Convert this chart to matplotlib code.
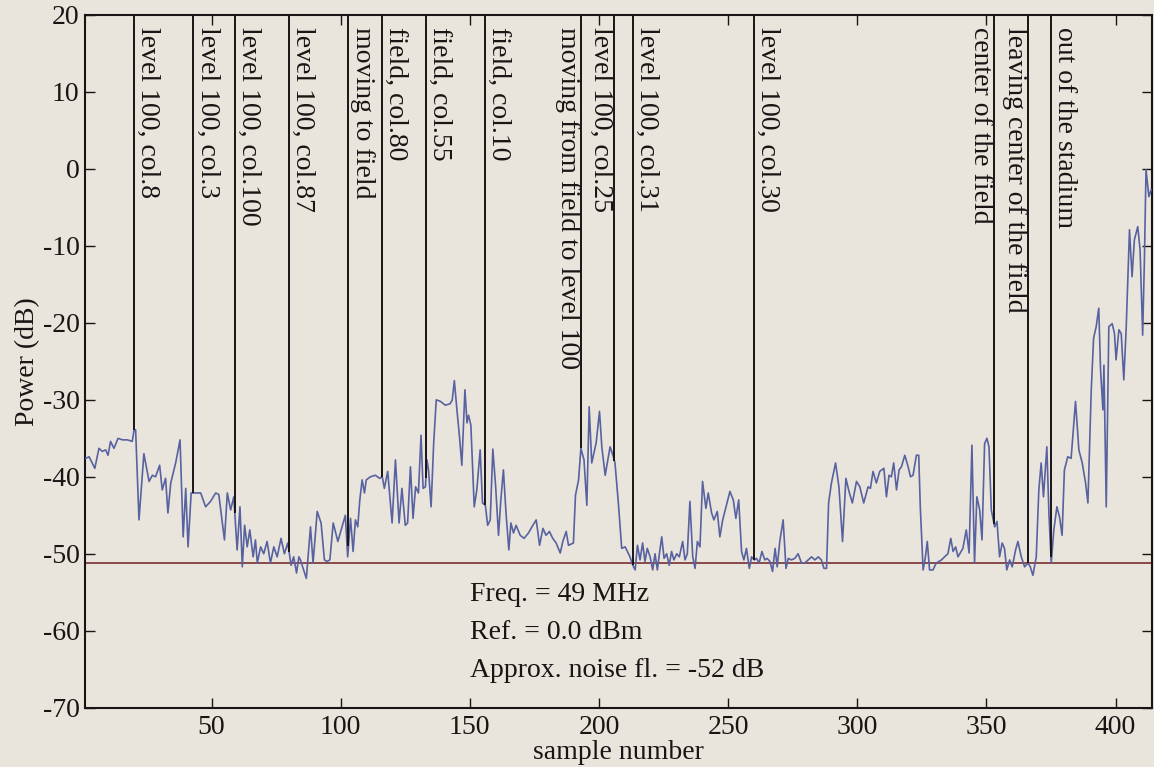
import matplotlib
matplotlib.use("Agg")
import matplotlib.pyplot as plt
import numpy as np

# ---------------- data ----------------
sample = [
    1.3, 2.6, 4.8, 6.4, 7.7, 9.0, 9.9, 10.9, 12.2, 13.8, 15.5, 17.4, 19.3, 20.0, 20.6,
    21.9, 23.8, 25.8, 27.1, 28.3, 29.9, 30.9, 32.2, 33.1, 34.2, 36.1, 37.8, 39.0, 40.0,
    40.9, 42.1, 43.8, 45.8, 47.7, 49.6, 51.6, 52.8, 55.0, 56.1, 57.4, 58.6, 59.9, 61.0,
    61.9, 62.8, 63.8, 64.8, 66.1, 67.0, 67.7, 69.0, 70.2, 71.5, 72.8, 74.1, 75.4, 76.9,
    78.2, 79.5, 80.8, 81.8, 82.9, 83.8,
    84.4, 86.7, 88.3, 89.3, 90.9, 92.4, 93.7, 94.7, 95.8, 97.1, 98.9, 100.5, 101.8, 102.7,
    103.8, 104.8, 105.7, 106.6, 107.4, 108.3, 109.2, 109.9, 111.5, 113.4, 115.1, 116.1,
    116.9, 118.2, 119.9, 121.2, 122.6, 123.7, 125.0, 125.9, 127.0, 128.0, 129.0, 130.1,
    131.1, 131.9, 132.8, 133.4, 134.0, 135.0, 136.0, 137.0, 138.6, 140.5, 142.4, 143.2,
    144.0, 145.0, 146.0, 146.9, 148.1, 148.9, 149.5, 150.4, 151.7, 152.7, 154.0, 154.9,
    156.0, 156.9, 157.9, 158.9, 160.0, 161.1, 162.0, 163.0, 164.0, 165.1, 165.9, 166.9,
    167.9, 169.5,
    171.0, 172.7, 174.4, 175.7, 177.0, 178.3, 179.5, 180.8, 182.1, 183.4, 185.0, 186.0,
    187.3, 188.2, 190.1, 190.9, 192.1, 193.0, 194.2, 195.3, 196.2, 197.2, 198.9, 200.2,
    201.1, 202.4, 204.3, 205.6, 206.2, 207.5, 208.8, 210.1, 211.0, 212.0, 213.1, 214.0,
    214.9, 215.9, 216.9, 217.8, 218.7, 219.8, 220.8, 221.7, 222.6, 223.4, 224.3, 225.2,
    226.2, 227.2, 228.1, 229.0, 230.1, 231.1, 232.4, 233.3, 234.2, 235.2, 236.3, 237.2,
    238.1, 239.1, 240.1, 241.4, 242.3, 243.6, 244.5, 245.8, 246.8, 247.9, 249.2, 250.7,
    252.0, 253.0, 254.1,
    255.2, 256.1, 257.1, 258.2, 259.1, 260.1, 261.0, 262.0, 263.1, 264.2, 265.1, 266.2,
    267.2, 268.2, 269.0, 270.0, 271.3, 272.4, 273.3, 274.5, 275.8, 277.1, 278.4, 279.7,
    281.0, 282.3, 283.6, 284.9, 286.1, 287.1, 288.1, 288.9, 290.0, 291.6, 292.9, 294.3,
    295.6, 296.8, 298.1, 299.7, 301.0, 302.5, 304.2, 305.1, 306.1, 307.4, 308.7, 310.3,
    311.3, 312.3, 313.2, 314.1, 315.2, 316.2, 317.1, 318.4, 319.7, 320.6, 321.6, 322.9,
    323.8, 324.4, 325.5, 326.4, 327.1, 328.0, 329.3, 330.6, 332.6, 333.8, 335.1, 336.2,
    337.1, 338.1, 339.0,
    340.9, 342.2, 343.3, 344.4, 345.4, 346.3, 347.4, 348.3, 349.3, 350.2, 351.0, 351.9,
    353.2, 354.1, 355.1, 356.1, 357.0, 357.9, 359.0, 360.0, 361.3, 362.2, 363.5, 364.8,
    366.1, 367.0, 368.0, 369.3, 370.3, 371.2, 372.1, 373.4, 374.2, 375.1, 376.1, 377.3,
    378.3, 379.3, 380.2, 381.5, 382.8, 384.5, 385.8, 387.1, 388.4, 389.3, 390.6, 391.5,
    392.5, 393.5, 394.2, 395.1, 395.5, 396.4, 397.4, 398.7, 399.6, 400.2, 401.3, 402.2,
    403.2, 404.1, 405.4, 406.4, 407.3, 408.6, 409.5, 410.5, 411.2, 411.8, 412.9, 413.8,
]
power_db = [
    -37.6, -37.4, -38.9, -36.3, -36.7, -36.5, -37.2, -35.4, -36.3, -35.0, -35.2, -35.2, -35.4, -33.9, -33.9,
    -45.6, -37.0, -40.6, -39.8, -40.0, -38.5, -41.7, -40.2, -44.7, -40.8, -38.2, -35.2, -47.8, -41.5,
    -49.1, -42.1, -42.1, -42.1, -43.9, -43.2, -42.1, -42.3, -48.2, -42.1, -44.3, -42.6, -49.5, -43.9,
    -51.7, -46.3, -49.1, -46.9, -50.4, -48.2, -51.2, -49.1, -50.0, -48.4, -51.2, -49.1, -50.4, -48.0,
    -50.0, -48.6, -51.5, -50.4, -52.5, -50.4,
    -50.8, -53.2, -46.5, -51.2, -44.5, -46.0, -50.8, -51.0, -50.8, -46.0, -48.4, -46.5, -45.0, -50.4,
    -45.4, -49.7, -45.6, -46.5, -43.0, -40.4, -42.1, -40.4, -40.0, -39.8, -40.2, -40.0,
    -41.5, -39.3, -46.0, -37.8, -46.0, -41.5, -46.3, -46.0, -38.7, -45.4, -41.3, -42.1,
    -34.6, -41.5, -41.3, -37.8, -39.1, -43.9, -35.6, -30.0, -30.2, -30.7, -30.5, -30.0,
    -27.5, -31.3, -34.8, -38.5, -28.7, -33.0, -32.0, -33.3, -43.9, -41.7, -36.5, -43.4,
    -43.7, -46.3, -45.6, -36.4, -41.3, -47.6, -43.0, -39.1, -44.7, -49.5, -46.0, -47.3,
    -46.3, -47.6,
    -48.0, -47.3, -46.3, -45.6, -48.9, -46.7, -47.6, -47.1, -48.0, -48.6, -49.9, -48.4,
    -47.1, -48.9, -48.6, -42.4, -40.4, -36.3, -37.8, -43.7, -30.9, -38.2, -35.6, -31.5,
    -36.1, -39.8, -36.1, -37.4, -38.2, -43.4, -49.3, -49.1, -49.7, -50.4, -51.5, -52.1,
    -48.9, -50.8, -48.6, -51.0, -49.3, -50.4, -52.1, -50.0, -52.1, -50.0, -47.8, -50.6,
    -50.0, -51.5, -49.7, -50.8, -50.0, -50.4, -48.4, -50.8, -50.0, -43.2, -50.4, -51.9,
    -48.4, -49.1, -40.6, -44.1, -42.1, -44.7, -45.6, -44.5, -47.8, -45.6, -43.9, -41.9,
    -43.0, -45.4, -43.0,
    -49.7, -50.8, -49.3, -51.9, -50.4, -50.8, -50.6, -51.2, -49.7, -50.8, -50.6, -51.0,
    -52.3, -49.3, -51.7, -48.4, -45.6, -51.9, -50.6, -50.8, -50.6, -50.0, -51.2, -51.2,
    -50.8, -50.4, -50.8, -50.4, -50.8, -51.9, -51.9, -43.4, -40.8, -38.2, -41.3, -48.4,
    -40.2, -41.9, -43.4, -40.6, -41.3, -43.4, -41.3, -41.5, -39.3, -40.8, -39.3, -38.9,
    -42.6, -39.8, -40.0, -38.2, -41.7, -39.1, -38.7, -37.2, -38.7, -40.0, -39.8, -37.2,
    -37.2, -43.9, -52.1, -50.4, -48.4, -52.1, -52.1, -51.2, -50.8, -50.4, -50.0, -48.0,
    -49.7, -49.1, -50.4,
    -49.3, -46.9, -49.9, -35.9, -51.2, -42.6, -44.3, -48.2, -35.7, -35.0, -36.1, -44.3,
    -46.5, -45.8, -50.4, -48.6, -49.3, -52.1, -50.8, -51.7, -49.5, -48.4, -50.4, -51.7,
    -51.2, -51.7, -52.8, -50.4, -41.7, -38.2, -42.6, -36.1, -44.7, -51.2, -46.9, -43.9,
    -45.2, -47.6, -39.1, -37.4, -37.6, -30.2, -36.5, -38.2, -40.8, -43.4, -28.7, -22.0,
    -20.5, -18.1, -26.1, -31.3, -25.5, -43.9, -20.5, -20.1, -21.4, -24.8, -20.9, -21.4,
    -27.4, -20.9, -7.9, -14.0, -9.2, -7.5, -10.5, -21.6, -11.4, -0.1, -3.6, -2.7,
]

event_samples = [20, 43, 59, 80, 103, 116, 133, 156, 193, 206, 213, 260, 353, 366, 375]
event_labels = [
    "level 100, col.8", "level 100, col.3", "level 100, col.100", "level 100, col.87",
    "moving to field", "field, col.80", "field, col.55", "field, col.10",
    "moving from field to level 100", "level 100, col.25", "level 100, col.31",
    "level 100, col.30", "center of the field", "leaving center of the field",
    "out of the stadium",
]
label_side = [1, 1, 1, 1, 1, 1, 1, 1, -1, -1, 1, 1, -1, -1, 1]

noise_floor_db = -51.2
info_lines = ["Freq. = 49 MHz", "Ref. = 0.0 dBm", "Approx. noise fl. = -52 dB"]

x_ticks = [50, 100, 150, 200, 250, 300, 350, 400]
y_ticks = [-70, -60, -50, -40, -30, -20, -10, 0, 10, 20]

# ---------------- style ----------------
plt.rcParams["font.family"] = ["Liberation Serif", "DejaVu Serif"]
plt.rcParams["axes.unicode_minus"] = False
BG = "#e9e5dc"
INK = "#1a1414"
FS = 20

fig = plt.figure(figsize=(11.54, 7.67), dpi=100, facecolor=BG)
W, H = 1154, 767
left, right, top, bottom = 85, 1151.7, 15, 707.7
ax = fig.add_axes([left / W, 1 - bottom / H, (right - left) / W, (bottom - top) / H])
ax.set_facecolor(BG)

ax.set_xlim(1, 414)
ax.set_ylim(-70, 20)

# noise floor
ax.axhline(noise_floor_db, color="#7a2e2e", lw=1.2, zorder=2)

# data trace
ax.plot(sample, power_db, color="#5862a0", lw=1.2, zorder=3)

# event lines from top down to the trace
ev_end = np.interp(event_samples, sample, power_db)
ax.vlines(event_samples, ev_end, 20, colors=INK, lw=1.4, zorder=4)

for s, lab, side in zip(event_samples, event_labels, label_side):
    ax.text(s + side * 5.3, 18.4, lab, rotation=-90, ha="center", va="top",
            fontsize=FS, color=INK, zorder=5)

# info block
info_y = [-56.2, -61.1, -66.0]
for t, yy in zip(info_lines, info_y):
    ax.text(150.2, yy, t, ha="left", va="baseline", fontsize=FS, color=INK)

ax.set_xticks(x_ticks)
ax.set_yticks(y_ticks)
ax.tick_params(direction="in", length=7, width=1.0, top=True, right=True,
               labelsize=FS, colors=INK)
ax.tick_params(axis="x", pad=5)
ax.tick_params(axis="y", pad=4)
for sp in ax.spines.values():
    sp.set_linewidth(1.5)
    sp.set_color(INK)

ax.set_xlabel("sample number", fontsize=FS, labelpad=0, color=INK)
ax.set_ylabel("Power (dB)", fontsize=FS, labelpad=2, color=INK)

fig.savefig("out.png", dpi=100, facecolor=BG)
